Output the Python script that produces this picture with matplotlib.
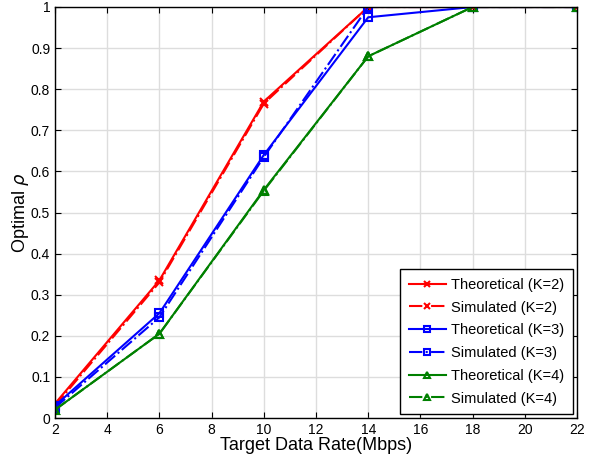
import matplotlib
matplotlib.use("Agg")
import matplotlib.pyplot as plt

plt.rcParams['font.family'] = ['Liberation Sans', 'DejaVu Sans']

rates = [2, 6, 10, 14, 18, 22]
theo_k2 = [0.035, 0.335, 0.77, 1.0, 1.0, 1.0]
sim_k2 = [0.03, 0.33, 0.765, 1.0, 1.0, 1.0]
theo_k3 = [0.03, 0.255, 0.64, 0.975, 1.0, 1.0]
sim_k3 = [0.025, 0.245, 0.635, 1.0, 1.0, 1.0]
theo_k4 = [0.02, 0.205, 0.555, 0.88, 1.0, 1.0]
sim_k4 = [0.02, 0.205, 0.553, 0.88, 1.0, 1.0]
xticks = [2, 4, 6, 8, 10, 12, 14, 16, 18, 20, 22]
yticks = [0, 0.1, 0.2, 0.3, 0.4, 0.5, 0.6, 0.7, 0.8, 0.9, 1]

fig = plt.figure(figsize=(5.97, 4.55), dpi=100)
ax = fig.add_axes([55/597, 1-418/455, (577-55)/597, (418-7)/455])

series = [
    (theo_k2, '#ff0000', '-', 'x', 'Theoretical (K=2)'),
    (sim_k2, '#ff0000', '-.', 'x', 'Simulated (K=2)'),
    (theo_k3, '#0000ff', '-', 's', 'Theoretical (K=3)'),
    (sim_k3, '#0000ff', '-.', 's', 'Simulated (K=3)'),
    (theo_k4, '#008000', '-', '^', 'Theoretical (K=4)'),
    (sim_k4, '#008000', '-.', '^', 'Simulated (K=4)'),
]
for vals, c, ls, m, lab in series:
    ax.plot(rates, vals, color=c, linestyle=ls, marker=m, markersize=6,
            markerfacecolor='none', markeredgecolor=c, markeredgewidth=1.5,
            linewidth=1.5, label=lab)

ax.set_xlim(2, 22)
ax.set_ylim(0, 1)
ax.set_xticks(xticks)
ax.set_yticks(yticks)
ax.set_yticklabels(['0', '0.1', '0.2', '0.3', '0.4', '0.5', '0.6', '0.7', '0.8', '0.9', '1'])
ax.tick_params(direction='in', top=True, right=True, labelsize=10, length=4)
ax.grid(True, color='#dddddd', linewidth=1)
ax.set_axisbelow(True)
for s in ax.spines.values():
    s.set_linewidth(1.0)
ax.set_xlabel('Target Data Rate(Mbps)', fontsize=13, labelpad=0)
ax.set_ylabel(r'Optimal $\rho$', fontsize=13, labelpad=0)
leg = ax.legend(loc='lower right', fontsize=10.5, fancybox=False, edgecolor='black',
                framealpha=1, handlelength=2.5, handletextpad=0.4,
                labelspacing=0.6, borderpad=0.6, borderaxespad=0.25,
                markerscale=0.8)
leg.get_frame().set_linewidth(1.0)

fig.savefig('out.png', dpi=100)
